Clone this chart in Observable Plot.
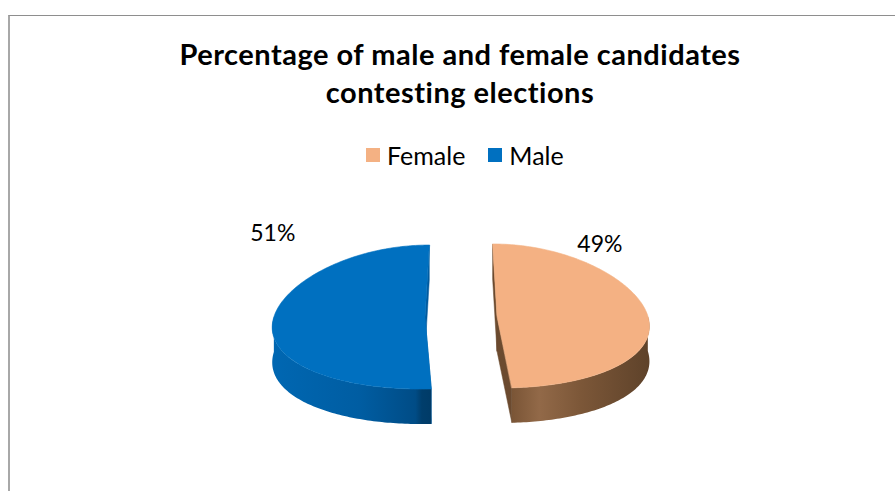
<!DOCTYPE html>
<html><head><meta charset="utf-8">
<script src="https://cdn.jsdelivr.net/npm/d3@7"></script>
<script src="https://cdn.jsdelivr.net/npm/@observablehq/plot@0.6"></script>
<style>
html,body{margin:0;padding:0;background:#fff;}
body{width:895px;height:491px;position:relative;overflow:hidden;font-family:Lato,"Open Sans",sans-serif;}
#frame{position:absolute;left:8px;top:15px;right:-5px;bottom:-5px;border-top:1px solid #8e8e8e;border-left:2px solid #a8a8a8;}
#title{position:absolute;left:0;width:920px;top:35px;text-align:center;font-weight:700;font-size:29px;letter-spacing:0.5px;line-height:38px;color:#000;}
#legend{position:absolute;left:366px;top:141px;display:flex;align-items:center;font-size:25px;line-height:28px;color:#000;white-space:nowrap;}
#legend .sw{width:14px;height:14px;display:inline-block;margin-right:7px;}
#legend .item{display:flex;align-items:center;margin-right:23px;}
#chart{position:absolute;left:0;top:180px;}
</style></head><body>
<div id="frame"></div>
<div id="title">Percentage of male and female candidates<br>contesting elections</div>
<div id="legend"></div>
<div id="chart"></div>
<script>
// ---- data ----
const categories = ["Female", "Male"];
const values = [49, 51];
const valueLabels = ["49%", "51%"];
const topColors = ["#F4B183", "#0070C0"];
const faceColors = ["#6b4a2f", "#005a9e"];
const wallStops = [
  [[0, "#7a5536"], [0.2, "#926948"], [0.5, "#7c5738"], [1, "#5e422a"]],
  [[0, "#0067b2"], [0.55, "#005da2"], [0.9, "#004c86"], [0.94, "#003e6c"], [1, "#003b67"]]
];

// ---- layout ----
const W = 895, H = 311;
const geo = {cx: 460.5, cy: 136, rx: 151, ry: 72, depth: 35, explode: 36, persp: 0.12};
const labelLayout = {Female: {angle: 34.6, k: 1.2}, Male: {angle: 319.1, k: 1.54}};

const rows = categories.map((c, i) => ({category: c, value: values[i], label: valueLabels[i], i}));
const arcs = d3.pie().sort(null).value(d => d.value)(rows);

function slicer(a) {
  const mid = (a.startAngle + a.endAngle) / 2;
  const scx = geo.cx + geo.explode * Math.sin(mid);
  const scy = geo.cy - geo.explode * Math.cos(mid) * geo.ry / geo.rx;
  const pt = (ang, r, z) => {
    const u = scx + r * geo.rx * Math.sin(ang);
    const v = scy - r * geo.ry * Math.cos(ang);
    const s = 1 + geo.persp * (v - geo.cy) / geo.ry;
    return {x: geo.cx + (u - geo.cx) * s, y: v + z};
  };
  return {scx, scy, pt, mid};
}

function arcAngles(a0, a1) {
  const n = Math.max(2, Math.ceil((a1 - a0) / (Math.PI / 180)));
  return d3.range(n + 1).map(k => a0 + (a1 - a0) * k / n);
}

const marks = [];
const labelRows = [];
arcs.forEach(a => {
  const i = a.data.i;
  const {pt, scx, scy} = slicer(a);
  // radial faces
  for (const ang of [a.startAngle, a.endAngle]) {
    const face = [pt(ang, 0, 0), pt(ang, 1, 0), pt(ang, 1, geo.depth), pt(ang, 0, geo.depth)];
    marks.push(Plot.line(face, {x: "x", y: "y", curve: "linear-closed", fill: faceColors[i], stroke: faceColors[i], strokeWidth: 0.5}));
  }
  // outer wall (front part only)
  const w0 = Math.max(a.startAngle, Math.PI / 2), w1 = Math.min(a.endAngle, 3 * Math.PI / 2);
  if (w1 > w0) {
    const angs = arcAngles(w0, w1);
    const wall = angs.map(t => pt(t, 1, 0)).concat(angs.slice().reverse().map(t => pt(t, 1, geo.depth)));
    marks.push(Plot.line(wall, {x: "x", y: "y", curve: "linear-closed", fill: `url(#wall${i})`, stroke: "none"}));
  }
  // top face
  const top = [pt(a.startAngle, 0, 0)].concat(arcAngles(a.startAngle, a.endAngle).map(t => pt(t, 1, 0)));
  marks.push(Plot.line(top, {x: "x", y: "y", curve: "linear-closed", fill: topColors[i], stroke: topColors[i], strokeWidth: 0.6}));
  // label
  const L = labelLayout[a.data.category];
  const th = L.angle * Math.PI / 180;
  labelRows.push({x: scx + L.k * geo.rx * Math.sin(th), y: scy - L.k * geo.ry * Math.cos(th), text: a.data.label});
});
marks.push(Plot.text(labelRows, {x: "x", y: "y", text: "text", fontSize: 23, fill: "#000", fontFamily: "Lato, 'Open Sans', sans-serif"}));

const svg = Plot.plot({
  width: W, height: H, margin: 0,
  x: {domain: [0, W], range: [0, W], axis: null},
  y: {domain: [0, H], range: [0, H], axis: null},
  style: {background: "transparent", overflow: "visible"},
  marks
});
const defs = d3.select(svg).insert("defs", ":first-child");
wallStops.forEach((stops, i) => {
  const g = defs.append("linearGradient").attr("id", `wall${i}`).attr("x1", 0).attr("x2", 1).attr("y1", 0).attr("y2", 0);
  stops.forEach(([o, c]) => g.append("stop").attr("offset", o).attr("stop-color", c));
});
document.getElementById("chart").appendChild(svg);

// legend
const legend = d3.select("#legend");
categories.forEach((c, i) => {
  const it = legend.append("span").attr("class", "item");
  it.append("span").attr("class", "sw").style("background", topColors[i]);
  it.append("span").text(c);
});
</script>
</body></html>
